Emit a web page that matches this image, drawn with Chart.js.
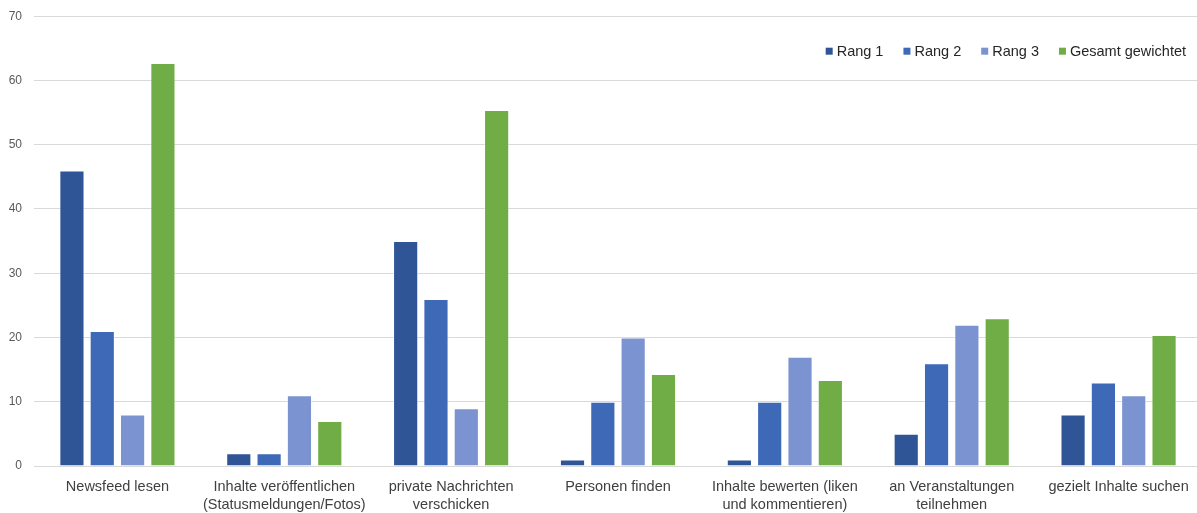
<!DOCTYPE html>
<html lang="de">
<head>
<meta charset="utf-8">
<title>Facebook-Nutzung nach Rang</title>
<script src="https://cdn.jsdelivr.net/npm/chart.js@4"></script>
<style>
  html, body { margin: 0; padding: 0; background: #ffffff; overflow: hidden; }
  #wrap { width: 1205px; height: 516px; margin-top: -3px; }
</style>
</head>
<body>
<div id="wrap"><canvas id="chart" width="1205" height="516"></canvas></div>
<script>
// Tätigkeiten auf der x-Achse
const categories = [
  'Newsfeed lesen',
  ['Inhalte veröffentlichen', '(Statusmeldungen/Fotos)'],
  ['private Nachrichten', 'verschicken'],
  'Personen finden',
  ['Inhalte bewerten (liken', 'und kommentieren)'],
  ['an Veranstaltungen', 'teilnehmen'],
  'gezielt Inhalte suchen'
];

const seriesNames = ['Rang 1', 'Rang 2', 'Rang 3', 'Gesamt gewichtet'];

const rang1 = [46, 2, 35, 1, 1, 5, 8];
const rang2 = [21, 2, 26, 10, 10, 16, 13];
const rang3 = [8, 11, 9, 20, 17, 22, 11];
const gesamt = [62.7, 7, 55.4, 14.3, 13.4, 23, 20.4];

const yTicks = [0, 10, 20, 30, 40, 50, 60, 70];

const colors = ['#2F5597', '#3D69B7', '#7B93D0', '#70AD47'];
const seriesValues = [rang1, rang2, rang3, gesamt];

const FONT = '"Liberation Sans", Arial, sans-serif';

// Legende oben rechts innerhalb der Zeichenfläche
const insideLegend = {
  id: 'insideLegend',
  afterDraw(chart) {
    const ctx = chart.ctx;
    ctx.save();
    ctx.font = '14.5px ' + FONT;
    ctx.textBaseline = 'middle';
    ctx.textAlign = 'left';
    const box = 7, boxGap = 4, itemGap = 20;
    const y = chart.chartArea.top + 35;
    const items = chart.data.datasets.map(ds => ({
      text: ds.label, color: ds.backgroundColor, w: ctx.measureText(ds.label).width
    }));
    let total = items.reduce((s, it) => s + box + boxGap + it.w, 0) + itemGap * (items.length - 1);
    let x = 1186 - total;
    items.forEach(it => {
      ctx.fillStyle = it.color;
      ctx.fillRect(x, y - box / 2, box, box);
      x += box + boxGap;
      ctx.fillStyle = '#262626';
      ctx.fillText(it.text, x, y + 1);
      x += it.w + itemGap;
    });
    ctx.restore();
  }
};

new Chart(document.getElementById('chart'), {
  type: 'bar',
  data: {
    labels: categories,
    datasets: seriesNames.map((name, i) => ({
      label: name,
      data: seriesValues[i],
      backgroundColor: colors[i],
      borderColor: 'rgba(255,255,255,0.45)',
      borderWidth: 1,
      categoryPercentage: 0.727,
      barPercentage: 0.83
    }))
  },
  options: {
    responsive: false,
    animation: false,
    devicePixelRatio: 1,
    layout: { padding: { top: 13, right: 3, left: 0, bottom: 0 } },
    plugins: {
      legend: { display: false },
      tooltip: { enabled: false }
    },
    scales: {
      x: {
        grid: { display: false, drawTicks: false },
        border: { display: false },
        ticks: {
          color: '#404040',
          font: { family: FONT, size: 14.5, lineHeight: 1.25 },
          padding: 12,
          maxRotation: 0,
          autoSkip: false
        },
        afterFit(scale) { scale.height = 47; }
      },
      y: {
        min: 0,
        max: 70,
        afterBuildTicks(scale) { scale.ticks = yTicks.map(v => ({ value: v })); },
        grid: { color: '#D9D9D9', lineWidth: 1, drawTicks: false },
        border: { display: false },
        ticks: {
          color: '#595959',
          font: { family: FONT, size: 12 },
          padding: 12
        },
        afterFit(scale) { scale.width = 34; }
      }
    }
  },
  plugins: [insideLegend]
});
</script>
</body>
</html>
